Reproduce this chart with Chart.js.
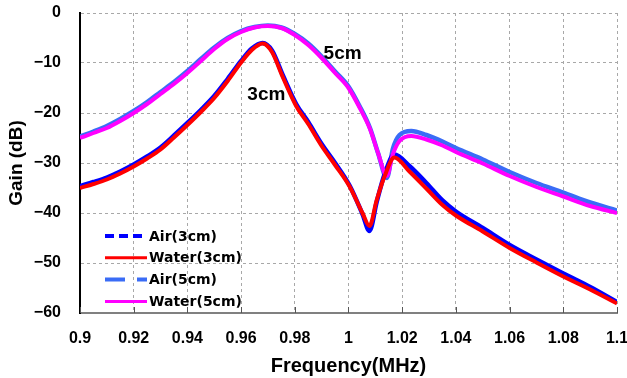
<!DOCTYPE html>
<html>
<head>
<meta charset="utf-8">
<script src="https://cdn.jsdelivr.net/npm/chart.js@4/dist/chart.umd.min.js"></script>
<style>
  html, body { margin: 0; padding: 0; background: #fff; }
</style>
</head>
<body>
<canvas id="chart" width="627" height="378"></canvas>
<script>
// gain curves, 3cm gap
var freq3 = [0.900, 0.905, 0.910, 0.915, 0.920, 0.925, 0.930, 0.935, 0.940, 0.945, 0.950, 0.955, 0.960, 0.964, 0.968, 0.9715, 0.9755, 0.9805, 0.985, 0.990, 0.995, 1.0004, 1.0052, 1.0078, 1.0105, 1.0134, 1.0171, 1.0227, 1.029, 1.035, 1.040, 1.050, 1.060, 1.070, 1.080, 1.090, 1.100];
var water3 = [-35.0, -34.2, -33.3, -32.1, -30.7, -29.1, -27.3, -24.9, -22.4, -19.8, -17.0, -13.6, -9.9, -7.4, -6.1, -7.8, -12.8, -18.6, -22.2, -26.6, -30.4, -34.7, -40.0, -42.6, -37.4, -32.7, -28.9, -31.7, -35.1, -38.4, -40.5, -43.7, -47.0, -49.9, -52.7, -55.3, -58.1];
var air3 = [-34.6, -33.8, -32.9, -31.7, -30.3, -28.7, -26.9, -24.5, -22.0, -19.4, -16.6, -13.2, -9.6, -7.1, -6.0, -7.5, -12.4, -18.2, -21.8, -26.2, -30.0, -34.5, -40.2, -43.6, -37.8, -32.3, -28.3, -30.6, -34.0, -37.5, -39.7, -43.0, -46.4, -49.3, -52.1, -54.8, -57.8];

// gain curves, 5cm gap
var freq5 = [0.900, 0.905, 0.910, 0.915, 0.920, 0.925, 0.930, 0.935, 0.940, 0.945, 0.950, 0.955, 0.960, 0.965, 0.970, 0.975, 0.980, 0.985, 0.990, 0.995, 1.000, 1.004, 1.008, 1.011, 1.0143, 1.0165, 1.019, 1.0234, 1.029, 1.035, 1.040, 1.050, 1.060, 1.070, 1.080, 1.090, 1.100];
var water5 = [-25.0, -24.0, -23.0, -21.6, -20.0, -18.2, -16.2, -14.2, -12.0, -9.6, -7.2, -5.2, -3.8, -2.9, -2.6, -3.0, -4.4, -6.4, -9.0, -12.0, -15.0, -18.8, -23.2, -28.0, -32.6, -28.3, -25.6, -24.6, -25.3, -26.5, -27.8, -30.1, -32.6, -34.8, -36.7, -38.6, -40.0];
var air5 = [-24.7, -23.7, -22.6, -21.2, -19.6, -17.8, -15.8, -13.8, -11.6, -9.2, -6.9, -5.0, -3.6, -2.8, -2.5, -2.9, -4.2, -6.1, -8.7, -11.7, -14.7, -18.5, -23.0, -28.0, -33.0, -27.2, -24.4, -23.6, -24.4, -25.7, -27.0, -29.3, -31.8, -34.0, -35.9, -37.9, -39.5];

var seriesNames = ['Air(3cm)', 'Water(3cm)', 'Air(5cm)', 'Water(5cm)'];

var xTickValues = [0.9, 0.92, 0.94, 0.96, 0.98, 1.0, 1.02, 1.04, 1.06, 1.08, 1.1];
var xTickLabels = ['0.9', '0.92', '0.94', '0.96', '0.98', '1', '1.02', '1.04', '1.06', '1.08', '1.1'];
var yTickValues = [0, -10, -20, -30, -40, -50, -60];
var yTickLabels = ['0', '\u221210', '\u221220', '\u221230', '\u221240', '\u221250', '\u221260'];

function toPoints(xs, ys) {
	return xs.map((x, i) => ({x: x, y: ys[i]}));
}

var styles = [
	{color: '#0000ff', width: 4.5, dash: [9, 5], order: 3},
	{color: '#ff0000', width: 4, dash: [], order: 1},
	{color: '#3a6cf6', width: 4.5, dash: [20, 12], order: 4},
	{color: '#ff00ff', width: 4, dash: [], order: 2},
];

// legend + curve labels drawn inside the plot
var extras = {
	id: 'extras',
	afterDatasetsDraw(chart) {
		var ctx = chart.ctx;
		var xs = chart.scales.x, ys = chart.scales.y;
		ctx.save();

		// inner tick marks on the frequency axis
		ctx.strokeStyle = '#555';
		ctx.lineWidth = 1;
		xTickValues.forEach(v => {
			var px = Math.round(xs.getPixelForValue(v)) + 0.5;
			ctx.beginPath();
			ctx.moveTo(px, ys.bottom);
			ctx.lineTo(px, ys.bottom - 6);
			ctx.stroke();
		});

		ctx.fillStyle = '#000';
		ctx.font = 'bold 19px "Liberation Sans"';
		ctx.textAlign = 'center';
		ctx.textBaseline = 'middle';
		ctx.fillText('3cm', xs.getPixelForValue(0.9694), ys.getPixelForValue(-16.4));
		ctx.fillText('5cm', xs.getPixelForValue(0.9978), ys.getPixelForValue(-8.1));

		var left = chart.chartArea.left;
		ctx.font = 'bold 14px "DejaVu Sans"';
		ctx.textAlign = 'left';
		seriesNames.forEach((name, i) => {
			var y = 236 + i * 21.8;
			var st = styles[i];
			ctx.strokeStyle = st.color;
			ctx.lineWidth = i % 2 === 0 ? 4 : 3;
			ctx.setLineDash(st.dash);
			ctx.beginPath();
			ctx.moveTo(left + 25, y);
			ctx.lineTo(left + 67, y);
			ctx.stroke();
			ctx.setLineDash([]);
			ctx.fillStyle = '#000';
			ctx.fillText(name, left + 69, y + 1);
		});
		ctx.restore();
	}
};

var datasets = [
	{data: toPoints(freq3, air3)},
	{data: toPoints(freq3, water3)},
	{data: toPoints(freq5, air5)},
	{data: toPoints(freq5, water5)},
].map((d, i) => Object.assign(d, {
	label: seriesNames[i],
	borderColor: styles[i].color,
	borderWidth: styles[i].width,
	order: styles[i].order,
	pointRadius: 0,
	fill: false,
	cubicInterpolationMode: 'monotone',
}));

var chart = new Chart(document.getElementById('chart'), {
	type: 'line',
	data: {datasets: datasets},
	options: {
		responsive: false,
		animation: false,
		devicePixelRatio: 1,
		layout: {padding: {top: 13, right: 10, bottom: 0, left: 0}},
		plugins: {legend: {display: false}, tooltip: {enabled: false}},
		scales: {
			x: {
				type: 'linear',
				min: 0.9,
				max: 1.1,
				afterFit: s => {
					s.height = 65;
					s.paddingLeft = 0;
					s.paddingRight = 8;
				},
				afterBuildTicks: s => { s.ticks = xTickValues.map(v => ({value: v})); },
				ticks: {
					padding: 16,
					color: '#000',
					font: {family: '"Liberation Sans"', size: 16, weight: 'bold'},
					callback: (v, i) => xTickLabels[i],
				},
				grid: {color: '#a8a8a8', lineWidth: 1, drawTicks: false},
				border: {color: '#808080', width: 2, dash: [3, 3]},
				title: {
					display: true,
					text: 'Frequency(MHz)',
					color: '#000',
					font: {family: '"Liberation Sans"', size: 20, weight: 'bold'},
					padding: {top: 0, bottom: 0},
				},
			},
			y: {
				type: 'linear',
				min: -60,
				max: 0,
				afterFit: s => {
					s.width = 80;
					s.paddingTop = 8;
					s.paddingBottom = 8;
				},
				afterBuildTicks: s => { s.ticks = yTickValues.map(v => ({value: v})); },
				ticks: {
					padding: 19,
					color: '#000',
					font: {family: '"Liberation Sans"', size: 16, weight: 'bold'},
					callback: (v, i) => yTickLabels[i],
				},
				grid: {color: '#a8a8a8', lineWidth: 1, drawTicks: false},
				border: {color: '#000', width: 2, dash: [3, 3]},
				title: {
					display: true,
					text: 'Gain (dB)',
					color: '#000',
					font: {family: '"Liberation Sans"', size: 19, weight: 'bold'},
					padding: {top: 5, bottom: 0},
				},
			},
		},
	},
	plugins: [extras],
});
</script>
</body>
</html>
